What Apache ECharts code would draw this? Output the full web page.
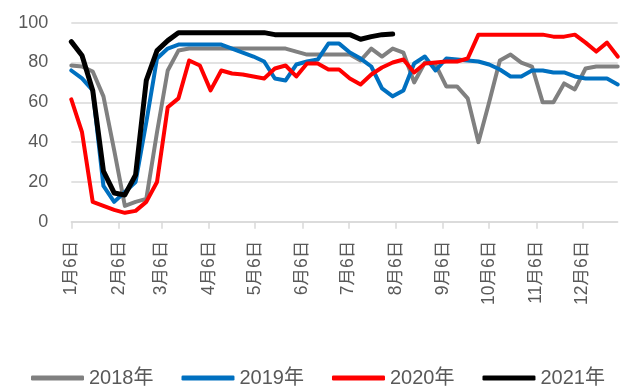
<!DOCTYPE html>
<html>
<head>
<meta charset="utf-8">
<script src="https://cdn.jsdelivr.net/npm/echarts@6/dist/echarts.min.js"></script>
<style>
html,body{margin:0;padding:0;background:#fff;}
#chart{width:641px;height:387px;}
</style>
</head>
<body>
<div id="chart"></div>
<script>
// Tick labels on the date axis (day offsets from 1月6日)
const tickLabels = ['1月6日','2月6日','3月6日','4月6日','5月6日','6月6日','7月6日','8月6日','9月6日','10月6日','11月6日','12月6日'];
const tickDays = [0,31,59,90,120,151,181,212,243,273,304,334];
const lastDay = 357;
const weekStep = 7;

const seriesNames = ['2018年','2019年','2020年','2021年'];

const v2018 = [78.5,78,75.5,63,36,8,10,11.5,45,76,86,87,87,87,87,87,87,87,87,87,87,85.5,84,84,84,84,84,81,87,83,87,85,70,80,79,68,68,62,40,60,81,84,80,78,60,60,69.5,66.5,77,78,78,78];
const v2019 = [76,72,66,18,10,15,20,50,82,87,89,89,89,89,89,87,85,83,80.5,72,71,79,80.5,81.5,89.5,89.5,85,82,78,67,63,66,79.5,83,76,82,81.5,81,80.5,79,76.5,73,73,76,76,75,75,73,72,72,72,69];
const v2020 = [61.5,45,10,8,6,4.5,5.5,10,20,57.5,62,81,78.5,66,76,74.5,74,73,72,77,78.5,73,79.5,79.5,76.5,76.5,72,69,74,77.5,80,81.5,75,79.5,80,80.5,80.5,82,94,94,94,94,94,94,94,93,93,94,90,85.5,90,83];
const v2021 = [90.5,83.5,66,25.5,14.5,13.5,23.5,71,86,91,95,95,95,95,95,95,95,95,95,94,94,94,94,94,94,94,94,91.7,93,94,94.3];

const colors = ['#808080','#0070C0','#FF0000','#000000'];
const widths = [4,4,4,5];

function toPoints(vals){ return vals.map((v,i)=>[i*weekStep, v]); }

const chart = echarts.init(document.getElementById('chart'), null, {renderer:'canvas'});
const allVals = [v2018, v2019, v2020, v2021];

chart.setOption({
  animation:false,
  textStyle:{fontFamily:"'Liberation Sans','Noto Sans CJK SC',sans-serif"},
  grid:{left:71.3, right:23.3, top:22.7, bottom:165.2, outerBoundsMode:'none', containLabel:false},
  legend:{
    left:26, top:363,
    itemWidth:53, itemHeight:5, itemGap:28,
    icon:'roundRect',
    textStyle:{color:'#595959', fontSize:20, fontFamily:"'Liberation Sans','Noto Sans CJK SC',sans-serif"},
    data:seriesNames
  },
  xAxis:{
    type:'value', min:0, max:lastDay,
    axisLine:{show:true, lineStyle:{color:'#D9D9D9', width:1.5}},
    axisTick:{show:true, customValues:tickDays, length:7, lineStyle:{color:'#D9D9D9', width:1.5}},
    splitLine:{show:false},
    axisLabel:{
      customValues:tickDays, rotate:90, margin:19,
      color:'#595959', fontSize:17.5,
      fontFamily:"'Liberation Sans','Noto Sans CJK SC',sans-serif",
      formatter:function(val){ const k = tickDays.indexOf(Math.round(val)); return k>=0 ? tickLabels[k] : ''; }
    }
  },
  yAxis:{
    type:'value', min:0, max:100, interval:20,
    axisLine:{show:false}, axisTick:{show:false},
    splitLine:{lineStyle:{color:'#D9D9D9', width:1.5}},
    axisLabel:{color:'#595959', fontSize:18, margin:23}
  },
  series: seriesNames.map((n,k)=>({
    name:n, type:'line', data:toPoints(allVals[k]),
    symbol:'none', showSymbol:false,
    lineStyle:{color:colors[k], width:widths[k], cap:'round', join:'round'},
    itemStyle:{color:colors[k]},
    emphasis:{disabled:true}
  }))
});
</script>
</body>
</html>
